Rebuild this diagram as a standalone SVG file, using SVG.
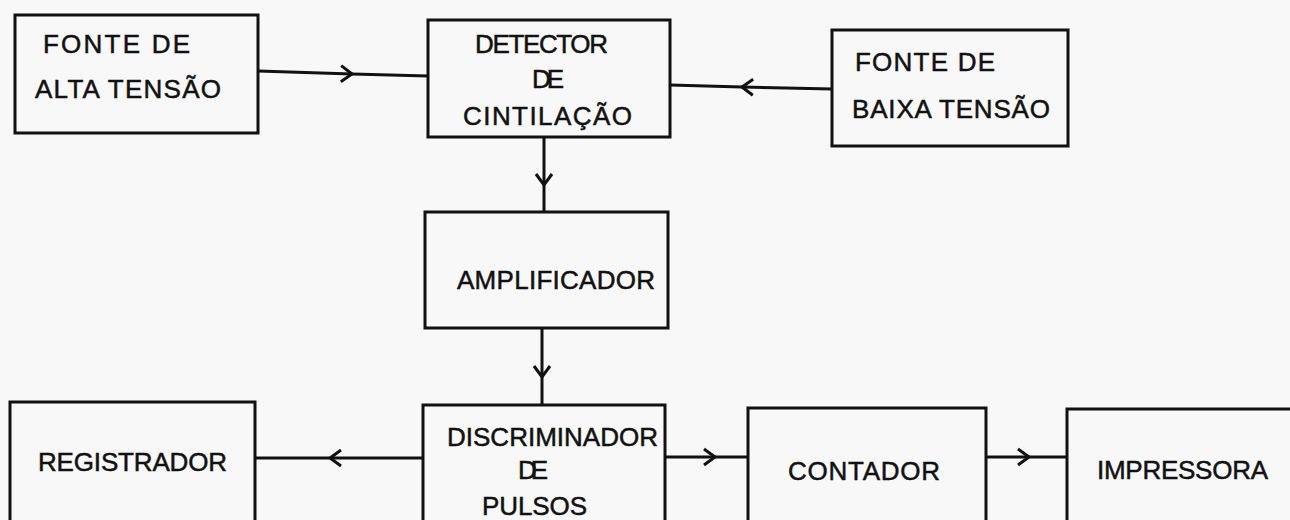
<svg xmlns="http://www.w3.org/2000/svg" width="1290" height="520" viewBox="0 0 1290 520">
<style>
.box{fill:none;stroke:#111;stroke-width:3}
.lbl{font-family:"Liberation Sans","DejaVu Sans",sans-serif;font-size:26px;fill:#111;stroke:#111;stroke-width:0.5}
.con{fill:none;stroke:#111;stroke-width:3;marker-mid:url(#chev)}
</style>
<defs>
<marker id="chev" viewBox="-12 -10 16 20" markerWidth="16" markerHeight="20" markerUnits="userSpaceOnUse" orient="auto" refX="0" refY="0">
<path d="M-11,-8 L0,0 L-11,8" fill="none" stroke="#111" stroke-width="3" stroke-linejoin="miter"/>
</marker>
</defs>
<rect x="0" y="0" width="1290" height="520" fill="#f8f8f8"/>
<g id="connectors">
<polyline class="con" points="258,71 352,74 428,76"/>
<polyline class="con" points="832,89 742,87 670,85"/>
<polyline class="con" points="544,137 544,185 544,213"/>
<polyline class="con" points="542,328 542,377 542,405"/>
<polyline class="con" points="423,458 330,458 255,458"/>
<polyline class="con" points="665,457 715,457 748,457"/>
<polyline class="con" points="986,457 1029,457 1067,457"/>
</g>
<g id="fonte-alta">
<rect class="box" x="15" y="15" width="243" height="118"/>
<text class="lbl" x="43" y="53" textLength="147" lengthAdjust="spacing">FONTE  DE</text>
<text class="lbl" x="35" y="98" textLength="186" lengthAdjust="spacing">ALTA  TENSÃO</text>
</g>
<g id="detector">
<rect class="box" x="428" y="20" width="242" height="117"/>
<text class="lbl" x="475" y="53" textLength="133" lengthAdjust="spacing">DETECTOR</text>
<text class="lbl" x="532" y="88" textLength="32" lengthAdjust="spacing">DE</text>
<text class="lbl" x="463" y="125" textLength="169" lengthAdjust="spacing">CINTILAÇÃO</text>
</g>
<g id="fonte-baixa">
<rect class="box" x="832" y="30" width="236" height="116"/>
<text class="lbl" x="855" y="71" textLength="140" lengthAdjust="spacing">FONTE  DE</text>
<text class="lbl" x="852" y="118" textLength="198" lengthAdjust="spacing">BAIXA  TENSÃO</text>
</g>
<g id="amplificador">
<rect class="box" x="425" y="212" width="243" height="116"/>
<text class="lbl" x="457" y="289" textLength="198" lengthAdjust="spacing">AMPLIFICADOR</text>
</g>
<g id="discriminador">
<rect class="box" x="423" y="405" width="242" height="125"/>
<text class="lbl" x="447" y="446" textLength="211" lengthAdjust="spacing">DISCRIMINADOR</text>
<text class="lbl" x="518" y="479" textLength="30" lengthAdjust="spacing">DE</text>
<text class="lbl" x="482" y="515" textLength="105" lengthAdjust="spacing">PULSOS</text>
</g>
<g id="registrador">
<rect class="box" x="10" y="402" width="245" height="128"/>
<text class="lbl" x="38" y="471" textLength="189" lengthAdjust="spacing">REGISTRADOR</text>
</g>
<g id="contador">
<rect class="box" x="748" y="408" width="238" height="122"/>
<text class="lbl" x="788" y="480" textLength="152" lengthAdjust="spacing">CONTADOR</text>
</g>
<g id="impressora">
<rect class="box" x="1067" y="409" width="240" height="121"/>
<text class="lbl" x="1097" y="479" textLength="171" lengthAdjust="spacing">IMPRESSORA</text>
</g>
</svg>
